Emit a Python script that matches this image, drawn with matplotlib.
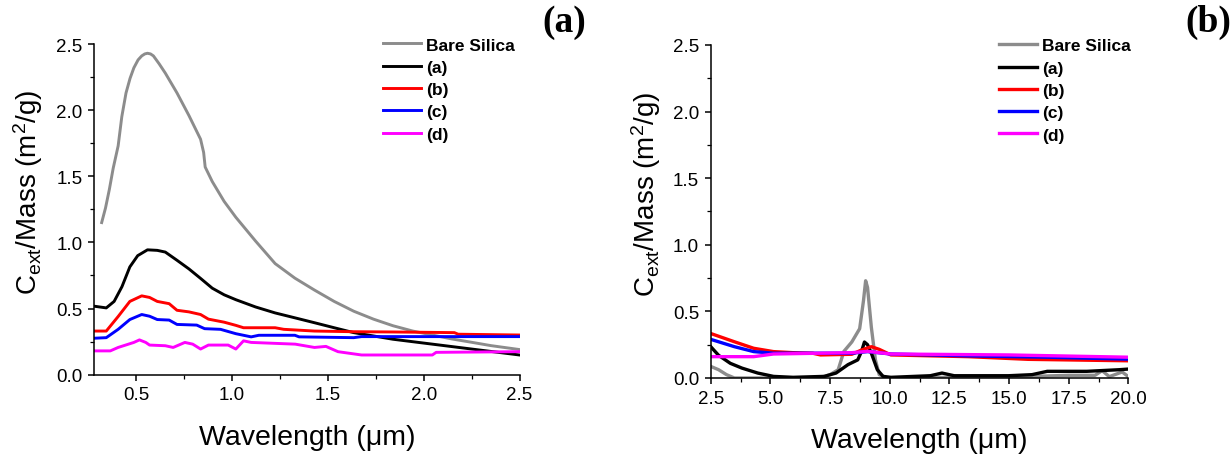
import numpy as np
import matplotlib
matplotlib.use("Agg")
import matplotlib.pyplot as plt
from matplotlib.ticker import MultipleLocator, FormatStrFormatter

plt.rcParams['font.family'] = ['Liberation Sans', 'DejaVu Sans']
plt.rcParams['mathtext.default'] = 'regular'

# ---------------- Panel (a): UV-Vis-NIR range ----------------
a_silica_x = [0.32, 0.34, 0.36, 0.38, 0.406, 0.425, 0.447, 0.468, 0.488, 0.51, 0.529, 0.545,
              0.559, 0.575, 0.59, 0.62, 0.652, 0.713, 0.775, 0.836,
              0.852, 0.86, 0.897, 0.959, 1.02, 1.123, 1.225, 1.328, 1.43, 1.533, 1.635, 1.738,
              1.84, 1.943, 2.045, 2.148, 2.25, 2.35, 2.45, 2.5]
a_silica_y = [1.15, 1.26, 1.40, 1.56, 1.73, 1.95, 2.13, 2.24, 2.32, 2.38, 2.41, 2.425,
              2.43, 2.425, 2.41, 2.35, 2.28, 2.13, 1.96, 1.78,
              1.68, 1.57, 1.46, 1.31, 1.19, 1.01, 0.84, 0.73, 0.64, 0.554, 0.48, 0.42,
              0.37, 0.33, 0.30, 0.27, 0.245, 0.22, 0.20, 0.19]

a_a_x = [0.285, 0.344, 0.385, 0.426, 0.467, 0.508, 0.559, 0.61, 0.652, 0.713, 0.775, 0.836,
         0.897, 0.959, 1.02, 1.123, 1.225, 1.328, 1.43, 1.533, 1.635, 1.84, 2.045, 2.25, 2.5]
a_a_y = [0.517, 0.505, 0.554, 0.666, 0.815, 0.90, 0.944, 0.94, 0.927, 0.865, 0.80, 0.728,
         0.654, 0.604, 0.567, 0.512, 0.467, 0.43, 0.393, 0.355, 0.318, 0.268, 0.231, 0.194, 0.149]

a_b_x = [0.285, 0.344, 0.406, 0.467, 0.529, 0.57, 0.61, 0.672, 0.713, 0.775, 0.836, 0.877,
         0.959, 1.02, 1.06, 1.225, 1.27, 1.43, 1.635, 1.84, 2.16, 2.18, 2.5]
a_b_y = [0.33, 0.33, 0.44, 0.554, 0.596, 0.584, 0.554, 0.537, 0.487, 0.475, 0.455, 0.42,
         0.397, 0.373, 0.355, 0.355, 0.343, 0.33, 0.325, 0.323, 0.318, 0.306, 0.30]

a_c_x = [0.285, 0.344, 0.406, 0.467, 0.529, 0.57, 0.61, 0.672, 0.713, 0.816, 0.857, 0.94,
         1.02, 1.1, 1.14, 1.328, 1.35, 1.635, 1.676, 2.5]
a_c_y = [0.276, 0.28, 0.343, 0.417, 0.455, 0.442, 0.417, 0.413, 0.38, 0.375, 0.348, 0.343,
         0.31, 0.286, 0.298, 0.298, 0.286, 0.28, 0.288, 0.288]

a_d_x = [0.285, 0.365, 0.406, 0.488, 0.517, 0.55, 0.57, 0.652, 0.693, 0.754, 0.795, 0.836,
         0.877, 0.98, 1.02, 1.06, 1.1, 1.33, 1.43, 1.49, 1.553, 1.676, 2.045, 2.065, 2.5]
a_d_y = [0.18, 0.18, 0.206, 0.244, 0.263, 0.244, 0.224, 0.219, 0.206, 0.244, 0.231, 0.194,
         0.224, 0.224, 0.194, 0.256, 0.244, 0.231, 0.206, 0.214, 0.174, 0.149, 0.149, 0.169, 0.174]

# ---------------- Panel (b): mid-IR range ----------------
b_silica_x = [2.5, 2.83, 3.16, 3.49, 5.0, 7.1, 7.5, 7.84, 8.08, 8.41, 8.74, 8.9, 8.99, 9.07,
              9.23, 9.4, 9.56, 9.9, 12.0, 14.0, 16.0, 17.5, 18.6, 18.9, 19.2, 19.74, 20.0]
b_silica_y = [0.087, 0.062, 0.025, 0.0, 0.0, 0.004, 0.025, 0.062, 0.20, 0.27, 0.37, 0.58, 0.73, 0.68,
              0.38, 0.136, 0.025, 0.0, 0.004, 0.006, 0.012, 0.02, 0.02, 0.055, 0.01, 0.045, 0.01]

b_a_x = [2.5, 2.83, 3.32, 3.81, 4.47, 5.13, 5.95, 7.26, 7.75, 8.25, 8.66, 8.82, 8.94, 9.07,
         9.23, 9.48, 9.72, 10.05, 11.7, 12.19, 12.7, 14.98, 15.96, 16.6, 18.26, 19.6, 20.0]
b_a_y = [0.235, 0.17, 0.11, 0.074, 0.037, 0.012, 0.005, 0.012, 0.037, 0.10, 0.136, 0.20, 0.27, 0.25,
         0.186, 0.062, 0.012, 0.005, 0.017, 0.037, 0.017, 0.017, 0.025, 0.05, 0.05, 0.062, 0.067]

b_b_x = [2.5, 3.49, 4.3, 5.13, 5.95, 6.77, 7.1, 8.41, 8.82, 9.23, 9.56, 10.05, 13.3, 15.8, 20.0]
b_b_y = [0.334, 0.272, 0.223, 0.198, 0.19, 0.186, 0.173, 0.178, 0.21, 0.235, 0.215, 0.173,
         0.16, 0.14, 0.129]

b_c_x = [2.5, 3.49, 4.3, 5.13, 8.41, 9.07, 10.05, 13.3, 16.6, 20.0]
b_c_y = [0.29, 0.235, 0.198, 0.186, 0.186, 0.198, 0.18, 0.166, 0.156, 0.141]

b_d_x = [2.5, 4.3, 5.13, 8.41, 9.07, 10.05, 14.98, 20.0]
b_d_y = [0.16, 0.16, 0.18, 0.19, 0.20, 0.18, 0.173, 0.156]

series_labels = ['Bare Silica', '(a)', '(b)', '(c)', '(d)']
series_colors = ['#8c8c8c', '#000000', '#ff0000', '#0000ff', '#ff00ff']

fig = plt.figure(figsize=(12.32, 4.56), dpi=100)
ax1 = fig.add_axes([0.0763, 0.1761, 0.3454, 0.7252])
ax2 = fig.add_axes([0.5769, 0.1689, 0.3390, 0.7303])

panel_a = [(a_silica_x, a_silica_y), (a_a_x, a_a_y), (a_b_x, a_b_y), (a_c_x, a_c_y), (a_d_x, a_d_y)]
panel_b = [(b_silica_x, b_silica_y), (b_a_x, b_a_y), (b_b_x, b_b_y), (b_c_x, b_c_y), (b_d_x, b_d_y)]

for ax, data, lw, xlim, xmaj, legx in [(ax1, panel_a, 2.1, (0.28, 2.5), 0.5, 0.678),
                                        (ax2, panel_b, 2.4, (2.5, 20.0), 2.5, 0.69)]:
    for (x, y), lab, col in zip(data, series_labels, series_colors):
        ax.plot(x, y, color=col, lw=lw, label=lab, solid_joinstyle='round')
    ax.set_xlim(*xlim)
    ax.set_ylim(0, 2.5)
    ax.xaxis.set_major_locator(MultipleLocator(xmaj))
    ax.xaxis.set_minor_locator(MultipleLocator(xmaj / 2))
    ax.yaxis.set_major_locator(MultipleLocator(0.5))
    ax.yaxis.set_minor_locator(MultipleLocator(0.25))
    ax.xaxis.set_major_formatter(FormatStrFormatter('%.1f'))
    ax.yaxis.set_major_formatter(FormatStrFormatter('%.1f'))
    for s in ['top', 'right']:
        ax.spines[s].set_visible(False)
    for s in ['left', 'bottom']:
        ax.spines[s].set_linewidth(1.1)
    ax.tick_params(which='major', direction='out', length=4.3, width=1.1, labelsize=13.5, pad=4)
    ax.tick_params(which='minor', direction='out', length=2.7, width=0.9)
    ax.set_xlabel('Wavelength (\u03bcm)', fontsize=20.5, labelpad=15)
    ax.set_ylabel('C$_{ext}$/Mass (m$^2$/g)', fontsize=20)
    ax.yaxis.set_label_coords(-0.115, 0.555)
    ax.legend(loc='upper left', bbox_to_anchor=(legx, 1.02), frameon=False,
              prop={'weight': 'bold', 'size': 12.5}, handlelength=2.2,
              handletextpad=0.3, labelspacing=0.41, borderpad=0, borderaxespad=0)

fig.text(0.476, 0.95, '(a)', fontsize=27, fontweight='bold', family='Liberation Serif',
         ha='right', va='center')
fig.text(0.999, 0.95, '(b)', fontsize=27, fontweight='bold', family='Liberation Serif',
         ha='right', va='center')

fig.savefig('out.png', dpi=100)
